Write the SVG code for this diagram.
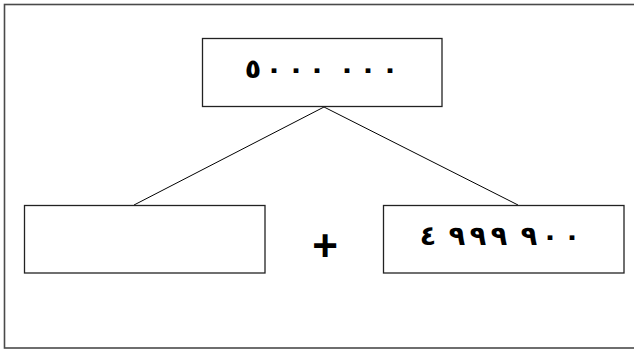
<svg xmlns="http://www.w3.org/2000/svg" width="634" height="350" viewBox="0 0 634 350">
<style>
.box{fill:#fff;stroke:#222;stroke-width:1.3}
.num{font-family:"DejaVu Sans","Noto Sans",sans-serif;font-weight:bold;font-size:27px;fill:#000;text-anchor:middle;direction:ltr;unicode-bidi:bidi-override}
.conn{stroke:#000;stroke-width:1;fill:none}
</style>
<rect x="0" y="0" width="634" height="350" fill="#fff"/>
<rect x="4.5" y="4.5" width="640" height="343.5" fill="none" stroke="#4a4a4a" stroke-width="1.6"/>
<g id="connectors">
<line class="conn" x1="324" y1="107" x2="134" y2="205"/>
<line class="conn" x1="324" y1="107" x2="518" y2="205"/>
</g>
<g id="top">
<rect class="box" x="202.5" y="38.5" width="239.5" height="68"/>
<text class="num" x="253 274 296 317 347 368 390" y="78">٥٠٠٠٠٠٠</text>
</g>
<g id="left">
<rect class="box" x="24.5" y="205.5" width="240.5" height="67.5"/>
</g>
<g id="plus">
<text x="325" y="261" font-family="Liberation Sans, Arial, sans-serif" font-weight="bold" font-size="44" text-anchor="middle">+</text>
</g>
<g id="right">
<rect class="box" x="383.5" y="205.5" width="240.5" height="67.5"/>
<text class="num" x="428 457 478 499 529 550 572" y="245">٤٩٩٩٩٠٠</text>
</g>
</svg>
